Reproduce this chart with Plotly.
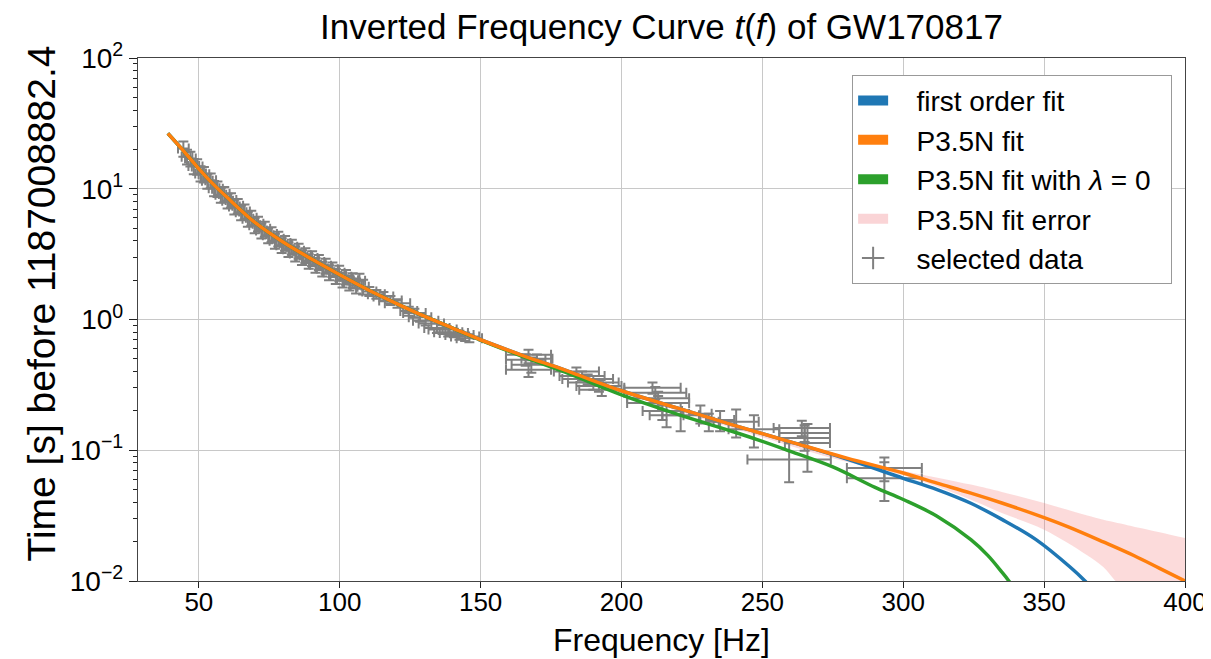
import plotly.graph_objects as go

# ---- fit curves ----
orange_f = [39, 45, 50, 55, 60, 70, 80, 90, 100, 110, 120, 130, 140, 150, 165, 180, 200, 220, 240, 260, 280, 300, 312, 324, 335, 350, 359, 371, 382, 391, 400]
orange_t = [26.5, 19.0, 14.2, 10.9, 8.6, 5.5, 3.9, 2.9, 2.2, 1.69, 1.33, 1.06, 0.86, 0.70, 0.53, 0.41, 0.285, 0.21, 0.155, 0.116, 0.087, 0.067, 0.056, 0.047, 0.0395, 0.0305, 0.0257, 0.0199, 0.0156, 0.0125, 0.0100]

blue_f = [39, 45, 50, 55, 60, 70, 80, 90, 100, 110, 120, 130, 140, 150, 165, 180, 200, 220, 240, 260, 280, 300, 312, 324, 335, 347, 359, 364.5, 368]
blue_t = [26.5, 19.0, 14.2, 10.9, 8.6, 5.5, 3.9, 2.9, 2.2, 1.69, 1.33, 1.06, 0.86, 0.70, 0.53, 0.41, 0.285, 0.21, 0.155, 0.116, 0.0855, 0.061, 0.050, 0.0393, 0.0296, 0.0208, 0.0129, 0.0100, 0.0082]

green_f = [39, 45, 50, 55, 60, 70, 80, 90, 100, 110, 120, 130, 140, 150, 165, 180, 200, 220, 240, 250, 260, 275, 290, 300, 312, 324, 330, 335, 337.5, 341]
green_t = [26.5, 19.0, 14.2, 10.9, 8.6, 5.5, 3.9, 2.9, 2.2, 1.69, 1.33, 1.06, 0.86, 0.695, 0.52, 0.395, 0.265, 0.188, 0.138, 0.117, 0.098, 0.0745, 0.052, 0.042, 0.0313, 0.0207, 0.0157, 0.0117, 0.0100, 0.0078]

band_f = [39, 100, 200, 250, 275, 300, 324, 335, 350, 365, 371, 375, 385, 400]
band_hi = [26.7, 2.21, 0.289, 0.132, 0.094, 0.0698, 0.0546, 0.048, 0.0395, 0.0318, 0.0294, 0.0282, 0.0252, 0.0213]
band_lo = [26.3, 2.19, 0.281, 0.126, 0.087, 0.0643, 0.0419, 0.0331, 0.0247, 0.0159, 0.0128, 0.0102, 0.0062, 0.0030]

# ---- selected data ----
sel_f = [44.5, 45.8, 47.0, 48.2, 49.4, 50.6, 51.8, 53.0, 54.2, 55.4, 56.6, 57.8, 59.0, 60.2, 61.4, 62.6,
         63.8, 65.0, 66.2, 67.4, 68.6, 69.8, 71.0, 72.2, 73.4, 74.6, 75.8, 77.0, 78.2, 79.4, 80.6, 81.8,
         83.0, 84.2, 85.4, 86.6, 87.8, 89.0, 90.2, 91.4, 92.6, 93.8, 95.0, 96.2, 97.4, 98.6, 99.8, 101.0,
         102.2, 103.4, 104.6, 105.8, 107.0, 108.3,
         110.5, 113.0, 115.5, 118.0, 120.5, 124.5, 126.5, 128.5, 130.5, 132.5, 134.5, 136.5, 138.5, 140.5, 142.5, 144.5, 146.0,
         167.0, 166.0, 168.0, 167.0, 170.0,
         184.0, 186.0, 188.0, 190.0, 192.0, 193.0,
         211.0, 212.0, 213.0, 213.0, 214.5, 216.0, 221.0,
         228.0, 231.0, 235.0,
         240.7, 247.0, 264.0, 265.0, 265.0, 266.0, 259.5,
         293.3, 293.3]
sel_t = [20.3, 17.6, 17.0, 14.9, 14.8, 13.1, 12.9, 11.5, 11.6, 10.1, 10.0, 9.0, 9.1, 8.1, 8.2, 7.3,
         7.4, 6.6, 6.7, 5.9, 6.0, 5.25, 5.4, 4.8, 4.95, 4.4, 4.5, 4.0, 4.15, 3.7, 3.85, 3.45,
         3.6, 3.2, 3.35, 3.0, 3.1, 2.8, 2.95, 2.62, 2.75, 2.45, 2.58, 2.3, 2.42, 2.15, 2.28, 2.02,
         2.12, 1.92, 2.0, 1.82, 1.98, 1.78,
         1.64, 1.56, 1.50, 1.40, 1.33, 1.16, 1.12, 1.04, 0.98, 0.93, 0.86, 0.84, 0.80, 0.79, 0.76, 0.74, 0.72,
         0.538, 0.493, 0.451, 0.413, 0.50,
         0.40, 0.37, 0.35, 0.33, 0.31, 0.29,
         0.30, 0.275, 0.25, 0.23, 0.20, 0.185, 0.185,
         0.19, 0.165, 0.17,
         0.165, 0.145, 0.148, 0.1355, 0.124, 0.1135, 0.085,
         0.073, 0.061]
sel_ferr = [1.9, 1.9, 1.9, 1.9, 1.9, 1.9, 1.9, 1.9, 1.9, 1.9, 1.9, 1.9, 1.9, 1.9, 1.9, 1.9,
            1.9, 1.9, 1.9, 1.9, 1.9, 1.9, 1.9, 1.9, 1.9, 1.9, 1.9, 1.9, 1.9, 1.9, 1.9, 1.9,
            1.9, 1.9, 1.9, 1.9, 1.9, 1.9, 1.9, 1.9, 1.9, 1.9, 1.9, 1.9, 1.9, 1.9, 1.9, 1.9,
            1.9, 1.9, 1.9, 1.9, 2.0, 2.0,
            2.5, 3.0, 3.5, 4.0, 4.5, 3.0, 4.0, 4.0, 4.5, 4.5, 4.5, 5.0, 5.0, 5.0, 5.0, 5.0, 4.5,
            8.0, 7.0, 7.0, 8.0, 5.5,
            8.0, 8.0, 9.0, 9.0, 8.0, 8.0,
            10.0, 11.0, 11.0, 11.0, 7.0, 6.0, 6.5,
            4.0, 3.5, 5.0,
            8.0, 9.0, 10.0, 9.0, 9.0, 8.0, 14.8,
            13.3, 13.3]
sel_terr = [2.7, 2.3, 2.2, 2.0, 2.0, 1.75, 1.75, 1.5, 1.5, 1.35, 1.35, 1.2, 1.2, 1.05, 1.05, 0.95,
            0.96, 0.86, 0.87, 0.77, 0.78, 0.69, 0.7, 0.63, 0.65, 0.57, 0.58, 0.52, 0.54, 0.48, 0.5, 0.45,
            0.47, 0.42, 0.44, 0.39, 0.4, 0.36, 0.38, 0.34, 0.36, 0.32, 0.34, 0.3, 0.31, 0.28, 0.3, 0.26,
            0.27, 0.25, 0.26, 0.24, 0.26, 0.23,
            0.13, 0.12, 0.12, 0.11, 0.1, 0.09, 0.09, 0.08, 0.08, 0.07, 0.07, 0.065, 0.06, 0.06, 0.06, 0.055, 0.05,
            0.05, 0.05, 0.06, 0.05, 0.04,
            0.03, 0.03, 0.03, 0.04, 0.03, 0.03,
            0.03, 0.03, 0.03, 0.03, 0.03, 0.035, 0.045,
            0.03, 0.025, 0.03,
            0.04, 0.04, 0.02, 0.02, 0.025, 0.045, 0.028,
            0.015, 0.02]

y_tickvals = [0.01, 0.1, 1, 10, 100]
y_ticktext = ["10<sup>−2</sup>", "10<sup>−1</sup>", "10<sup>0</sup>", "10<sup>1</sup>", "10<sup>2</sup>"]
x_tickvals = [50, 100, 150, 200, 250, 300, 350, 400]

NB = "\u00a0"
legend_names = ["first order fit", "P3.5N fit", "P3.5N fit with <i>λ</i> = 0" + NB * 2, "P3.5N fit error", "selected data"]

BLUE, ORANGE, GREEN = "#1f77b4", "#ff7f0e", "#2ca02c"
GRAY = "#808080"
BAND = "rgba(245,110,110,0.25)"

fig = go.Figure()

# band
fig.add_trace(go.Scatter(x=band_f, y=band_hi, mode="lines", line=dict(width=0, shape="spline"),
                         showlegend=False, hoverinfo="skip"))
fig.add_trace(go.Scatter(x=band_f, y=band_lo, mode="lines", line=dict(width=0, shape="spline"),
                         fill="tonexty", fillcolor=BAND, showlegend=False, hoverinfo="skip"))

# data
fig.add_trace(go.Scatter(x=sel_f, y=sel_t, mode="markers", marker=dict(size=1, color=GRAY),
                         error_x=dict(type="data", array=sel_ferr, color=GRAY, thickness=2, width=5),
                         error_y=dict(type="data", array=sel_terr, color=GRAY, thickness=2, width=5),
                         showlegend=False))

# curves
fig.add_trace(go.Scatter(x=blue_f, y=blue_t, mode="lines", line=dict(color=BLUE, width=3.5, shape="spline"), showlegend=False))
fig.add_trace(go.Scatter(x=green_f, y=green_t, mode="lines", line=dict(color=GREEN, width=3.5, shape="spline"), showlegend=False))
fig.add_trace(go.Scatter(x=orange_f, y=orange_t, mode="lines", line=dict(color=ORANGE, width=3.5, shape="spline"), showlegend=False))

# legend entries
for i, (name, col) in enumerate(zip(legend_names[:4], [BLUE, ORANGE, GREEN, "rgba(250,212,214,1)"])):
    fig.add_trace(go.Scatter(x=[None], y=[None], mode="lines", line=dict(color=col, width=10),
                             name=NB * 3 + name, legendgroup=str(i)))
fig.add_trace(go.Scatter(x=[None], y=[None], mode="markers", name=NB * 3 + legend_names[4], legendgroup="4",
                         marker=dict(symbol="cross-thin", size=18, color=GRAY, line=dict(color=GRAY, width=2))))

FONT = "Liberation Sans, Arial, sans-serif"
fig.update_layout(
    width=1211, height=659,
    margin=dict(l=130, r=28, t=50, b=86),
    paper_bgcolor="white", plot_bgcolor="white",
    font=dict(family=FONT, color="black"),
    title=dict(text="Inverted Frequency Curve <i>t</i>(<i>f</i>) of GW170817", x=0.5, xref="paper", xanchor="center",
               y=1 - 19 / 659, yanchor="middle", font=dict(size=35)),
    legend=dict(x=0.9877, xanchor="right", y=0.968, yanchor="top", bgcolor="white",
                bordercolor="#999999", borderwidth=1, font=dict(size=28),
                traceorder="grouped", tracegroupgap=0, itemwidth=30),
    showlegend=True,
    annotations=[
        dict(text="Frequency [Hz]", xref="paper", yref="paper", x=0.5, y=-0.113,
             xanchor="center", yanchor="middle", showarrow=False, font=dict(size=32)),
        dict(text="Time [s] before 1187008882.4", xref="paper", yref="paper", x=-0.092, y=0.53,
             xanchor="center", yanchor="middle", textangle=-90, showarrow=False, font=dict(size=39)),
    ],
)
fig.update_xaxes(range=[28.4, 400], tickvals=x_tickvals,
                 showgrid=True, gridcolor="#c8c8c8", gridwidth=1,
                 showline=True, linecolor="#444444", linewidth=1.25, mirror=True,
                 ticks="outside", ticklen=6, tickcolor="#222222", tickfont=dict(size=26),
                 ticklabelstandoff=-8, zeroline=False)
fig.update_yaxes(type="log", range=[-2, 2], tickvals=y_tickvals, ticktext=y_ticktext,
                 showgrid=True, gridcolor="#c8c8c8", gridwidth=1,
                 showline=True, linecolor="#444444", linewidth=1.25, mirror=True,
                 ticks="outside", ticklen=8, tickcolor="#222222", tickfont=dict(size=28),
                 minor=dict(ticks="outside", ticklen=4, tickcolor="#222222", dtick="D1", showgrid=False))

fig.write_html("out.html")
